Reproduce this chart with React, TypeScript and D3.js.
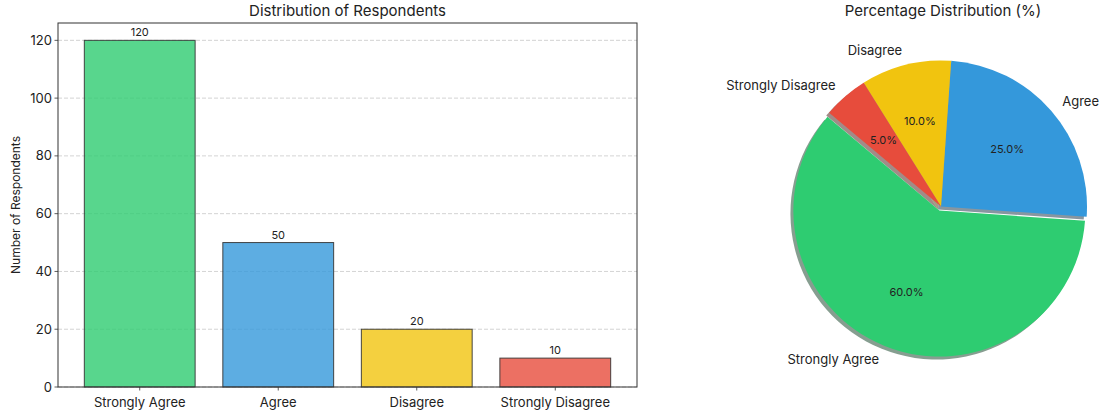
import React from "react";
import * as d3 from "d3";

const categories = ["Strongly Agree", "Agree", "Disagree", "Strongly Disagree"];
const counts = [120, 50, 20, 10];
const percents = [60.0, 25.0, 10.0, 5.0];
const colors = ["#2ecc71", "#3498db", "#f1c40f", "#e74c3c"];
const yTicks = [0, 20, 40, 60, 80, 100, 120];
const explode = [0.03, 0, 0, 0];

const FONT = "Inter, 'Noto Sans', sans-serif";
const W = 1102;
const H = 414;

function darker(c: string) {
  const r = d3.rgb(c);
  return d3.rgb(r.r * 0.3, r.g * 0.3, r.b * 0.3).formatHex();
}

export default function App() {
  // Bar chart geometry
  const left = 58, right = 637, top = 23, bottom = 387;
  const x = d3.scaleLinear().domain([-0.59, 3.59]).range([left, right]);
  const y = d3.scaleLinear().domain([0, 126]).range([bottom, top]);
  const bw = 0.8;

  // Pie geometry
  const cx = 941, cy = 206.5, R = 146;
  const pie = d3
    .pie<number>()
    .sort(null)
    .startAngle(((90 - 140) * Math.PI) / 180)
    .endAngle(((90 - 140 - 360) * Math.PI) / 180);
  const arcs = pie(percents);
  const arcGen = d3.arc<d3.PieArcDatum<number>>().innerRadius(0).outerRadius(R);
  const sh = 0.02 * R;

  const info = arcs.map((a, i) => {
    const mid = (a.startAngle + a.endAngle) / 2;
    const dx = Math.sin(mid), dy = -Math.cos(mid);
    const ox = cx + dx * explode[i] * R;
    const oy = cy + dy * explode[i] * R;
    return { a, mid, dx, dy, ox, oy };
  });

  return (
    <svg
      width={W}
      height={H}
      style={{ position: "absolute", left: 0, top: 0, background: "#fff" }}
      fontFamily={FONT}
    >
      {/* ---------- Bar chart ---------- */}
      <text x={(left + right) / 2} y={16} textAnchor="middle" fontSize={15} fill="#222">
        Distribution of Respondents
      </text>
      {yTicks.map((t) => (
        <g key={t}>
          <line
            x1={left}
            x2={right}
            y1={y(t)}
            y2={y(t)}
            stroke="#b0b0b0"
            strokeOpacity={0.7}
            strokeDasharray="4,2"
            strokeWidth={0.8}
          />
          <line x1={left - 3.5} x2={left} y1={y(t)} y2={y(t)} stroke="#333" strokeWidth={0.8} />
          <text x={left - 6} y={y(t)} dy="0.35em" textAnchor="end" fontSize={13} fill="#222">
            {t}
          </text>
        </g>
      ))}
      {categories.map((c, i) => (
        <g key={c}>
          <rect
            x={x(i - bw / 2)}
            y={y(counts[i])}
            width={x(i + bw / 2) - x(i - bw / 2)}
            height={y(0) - y(counts[i])}
            fill={colors[i]}
            fillOpacity={0.8}
            stroke="#333"
            strokeOpacity={0.9}
            strokeWidth={1}
          />
          <text x={x(i)} y={y(counts[i]) - 4} textAnchor="middle" fontSize={11} fill="#222">
            {counts[i]}
          </text>
          <line x1={x(i)} x2={x(i)} y1={bottom} y2={bottom + 3.5} stroke="#333" strokeWidth={0.8} />
          <text x={x(i)} y={bottom + 15} dy="0.35em" textAnchor="middle" fontSize={13} fill="#222">
            {c}
          </text>
        </g>
      ))}
      <rect x={left} y={top} width={right - left} height={bottom - top} fill="none" stroke="#333" strokeWidth={1} />
      <text
        transform={`translate(16,${(top + bottom) / 2}) rotate(-90)`}
        textAnchor="middle"
        dy="0.35em"
        fontSize={12}
        fill="#222"
      >
        Number of Respondents
      </text>

      {/* ---------- Pie chart ---------- */}
      <text x={943} y={16} textAnchor="middle" fontSize={15} fill="#222">
        Percentage Distribution (%)
      </text>
      {info.map((d, i) => (
        <path
          key={"s" + i}
          d={arcGen(d.a) || ""}
          transform={`translate(${d.ox - sh},${d.oy + sh})`}
          fill={darker(colors[i])}
          fillOpacity={0.5}
        />
      ))}
      {info.map((d, i) => (
        <path key={"w" + i} d={arcGen(d.a) || ""} transform={`translate(${d.ox},${d.oy})`} fill={colors[i]} />
      ))}
      {info.map((d, i) => {
        const lx = d.ox + d.dx * 1.1 * R;
        const ly = d.oy + d.dy * 1.1 * R;
        const px = d.ox + d.dx * 0.6 * R;
        const py = d.oy + d.dy * 0.6 * R;
        return (
          <g key={"l" + i}>
            <text x={lx} y={ly} dy="0.35em" textAnchor={d.dx > 0 ? "start" : "end"} fontSize={13} fill="#222">
              {categories[i]}
            </text>
            <text x={px} y={py} dy="0.35em" textAnchor="middle" fontSize={11} fill="#222">
              {percents[i].toFixed(1) + "%"}
            </text>
          </g>
        );
      })}
    </svg>
  );
}
